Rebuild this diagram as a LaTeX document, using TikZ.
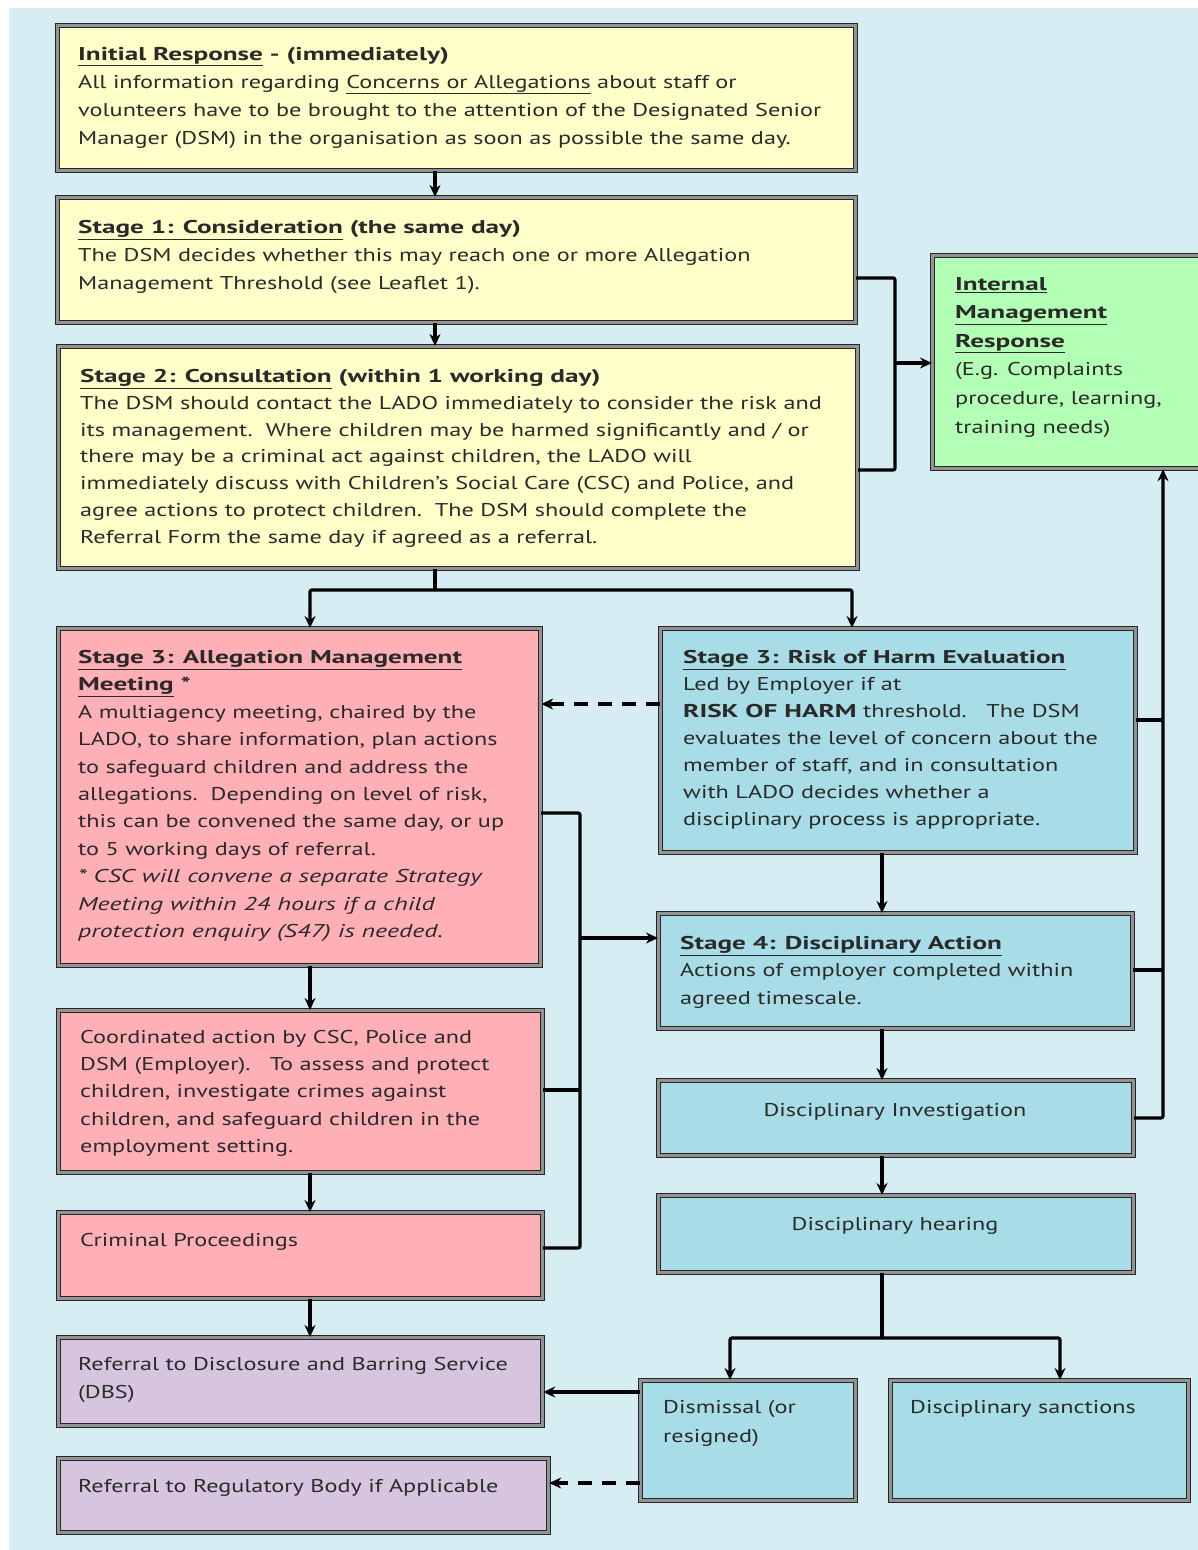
\documentclass[tikz,border=0pt]{standalone}
\usepackage{fontspec}
\setmainfont{PT Sans}[
  UprightFeatures={FakeStretch=1.31},
  BoldFeatures={FakeStretch=1.47},
  ItalicFeatures={FakeStretch=1.40}]
\usetikzlibrary{positioning, arrows.meta}

\definecolor{bgblue}{HTML}{D6EEF3}
\definecolor{yellowbox}{HTML}{FFFFCA}
\definecolor{pinkbox}{HTML}{FFB0B6}
\definecolor{bluebox}{HTML}{A8DCE6}
\definecolor{greenbox}{HTML}{B4FFB6}
\definecolor{purplebox}{HTML}{D7C5DF}
\definecolor{txt}{HTML}{2A2A2A}

\tikzset{
  box/.style={draw=black!85, line width=1.2pt, double=gray!85, double distance=2.8pt, inner sep=0pt, anchor=north west},
  words/.style={anchor=north west, inner sep=0pt, align=left, text=txt, font=\fontsize{18.5}{#1}\selectfont},
  words/.default=27,
  flow/.style={line width=3.2pt, rounded corners=2pt, -{Stealth[length=12pt,width=11pt]}},
  link/.style={line width=3.2pt, rounded corners=2pt},
  maybe/.style={line width=3.2pt, dash pattern=on 14pt off 10pt, -{Stealth[length=12pt,width=11pt]}},
}

\begin{document}
\begin{tikzpicture}[x=1pt, y=-1pt]
\fill[white] (0,0) rectangle (1198,1550);
\fill[bgblue] (9,8) rectangle (1198,1550);
\useasboundingbox (0,0) rectangle (1198,1550);

% top column
\node[box, fill=yellowbox, minimum width=798, minimum height=145] (init) at (57,25) {};
\node[words=28] (initT) at (78,47) {\textbf{\underline{Initial Response} - (immediately)}\\
All information regarding \underline{Concerns or Allegations} about staff or\\
volunteers have to be brought to the attention of the Designated Senior\\
Manager (DSM) in the organisation as soon as possible the same day.};

\node[box, fill=yellowbox, minimum width=798, minimum height=125] (s1) at (57,197) {};
\node[words=28] (s1T) at (78,220) {\textbf{\underline{Stage 1: Consideration} (the same day)}\\
The DSM decides whether this may reach one or more Allegation\\
Management Threshold (see Leaflet 1).};

\node[box, fill=yellowbox, minimum width=799, minimum height=222] (s2) at (58,346) {};
\node[words=26.8] (s2T) at (80,369) {\textbf{\underline{Stage 2: Consultation} (within 1 working day)}\\
The DSM should contact the LADO immediately to consider the risk and\\
its management.\ \ Where children may be harmed significantly and / or\\
there may be a criminal act against children, the LADO will\\
immediately discuss with Children's Social Care (CSC) and Police, and\\
agree actions to protect children.\ \ The DSM should complete the\\
Referral Form the same day if agreed as a referral.};

\node[box, fill=greenbox, minimum width=300, minimum height=213] (imr) at (932,255) {};
\node[words=28.6] (imrT) at (955,277) {\textbf{\underline{Internal}}\\
\textbf{\underline{Management}}\\
\textbf{\underline{Response}}\\
(E.g. Complaints\\
procedure, learning,\\
training needs)};

% left column
\node[box, fill=pinkbox, minimum width=482, minimum height=337] (amm) at (58,628) {};
\node[words=27.4] (ammT) at (78,650) {\textbf{\underline{Stage 3: Allegation Management}}\\
\textbf{\underline{Meeting} *}\\
A multiagency meeting, chaired by the\\
LADO, to share information, plan actions\\
to safeguard children and address the\\
allegations.\ \ Depending on level of risk,\\
this can be convened the same day, or up\\
to 5 working days of referral.\\
\textit{* CSC will convene a separate Strategy}\\
\textit{Meeting within 24 hours if a child}\\
\textit{protection enquiry (S47) is needed.}};

\node[box, fill=pinkbox, minimum width=484, minimum height=162] (coord) at (58,1010) {};
\node[words=27.3] (coordT) at (80,1030) {Coordinated action by CSC, Police and\\
DSM (Employer).\ \ \ To assess and protect\\
children, investigate crimes against\\
children, and safeguard children in the\\
employment setting.};

\node[box, fill=pinkbox, minimum width=484, minimum height=86] (crim) at (58,1212) {};
\node[words] (crimT) at (80,1233) {Criminal Proceedings};

\node[box, fill=purplebox, minimum width=484, minimum height=88] (dbs) at (58,1337) {};
\node[words=28] (dbsT) at (78,1357) {Referral to Disclosure and Barring Service\\
(DBS)};

\node[box, fill=purplebox, minimum width=490, minimum height=74] (reg) at (58,1458) {};
\node[words] (regT) at (78,1479) {Referral to Regulatory Body if Applicable};

% right column
\node[box, fill=bluebox, minimum width=475, minimum height=224] (roh) at (660,628) {};
\node[words=27] (rohT) at (683,650) {\textbf{\underline{Stage 3: Risk of Harm Evaluation}}\\
Led by Employer if at\\
\textbf{RISK OF HARM} threshold.\ \ \ The DSM\\
evaluates the level of concern about the\\
member of staff, and in consultation\\
with LADO decides whether a\\
disciplinary process is appropriate.};

\node[box, fill=bluebox, minimum width=474, minimum height=115] (disc) at (658,913) {};
\node[words=27.5] (discT) at (680,936) {\textbf{\underline{Stage 4: Disciplinary Action}}\\
Actions of employer completed within\\
agreed timescale.};

\node[box, fill=bluebox, minimum width=475, minimum height=75] (inv) at (658,1080) {};
\node[words, anchor=center] (invT) at (895,1112) {Disciplinary Investigation};

\node[box, fill=bluebox, minimum width=475, minimum height=77] (hear) at (658,1195) {};
\node[words, anchor=center] (hearT) at (895,1226) {Disciplinary hearing};

\node[box, fill=bluebox, minimum width=215, minimum height=120] (dism) at (640,1380) {};
\node[words=29] (dismT) at (663,1400) {Dismissal (or\\
resigned)};

\node[box, fill=bluebox, minimum width=298, minimum height=120] (sanc) at (890,1380) {};
\node[words] (sancT) at (910,1400) {Disciplinary sanctions};

% junction points
\coordinate (join) at (895,363);
\coordinate (split) at (435,590);
\coordinate (spineTop) at (580,813);
\coordinate (spineOut) at (580,938);
\coordinate (spineMid) at (580,1090);
\coordinate (spineBot) at (580,1248);
\coordinate (trunkA) at (1163,720);
\coordinate (trunkB) at (1163,970);
\coordinate (trunkC) at (1163,1118);
\coordinate (fork) at (882,1338);

% connectors
\draw[flow] (init.south -| split) -- (s1.north -| split);
\draw[flow] (s1.south -| split) -- (s2.north -| split);
\draw[link] (s1.east |- 0,278) -| (join);
\draw[link] (s2.east |- 0,470) -| (join);
\draw[flow] (join) -- (imr.west |- join);

\draw[link] (s2.south -| split) -- (split);
\draw[flow] (split) -| (amm.north -| 310,0);
\draw[flow] (split) -| (roh.north -| 852,0);
\draw[maybe] (roh.west |- 0,704) -- (amm.east |- 0,704);

\draw[flow] (amm.south -| 310,0) -- (coord.north -| 310,0);
\draw[flow] (coord.south -| 310,0) -- (crim.north -| 310,0);
\draw[flow] (crim.south -| 310,0) -- (dbs.north -| 310,0);
\draw[link] (amm.east |- spineTop) -- (spineTop) -- (spineBot) -- (crim.east |- spineBot);
\draw[link] (coord.east |- spineMid) -- (spineMid);
\draw[flow] (spineOut) -- (disc.west |- spineOut);

\draw[flow] (roh.south -| fork) -- (disc.north -| fork);
\draw[flow] (disc.south -| fork) -- (inv.north -| fork);
\draw[flow] (inv.south -| fork) -- (hear.north -| fork);
\draw[link] (roh.east |- trunkA) -- (trunkA);
\draw[link] (disc.east |- trunkB) -- (trunkB);
\draw[flow] (inv.east |- trunkC) -- (trunkC) -- (imr.south -| trunkC);

\draw[link] (hear.south -| fork) -- (fork);
\draw[flow] (fork) -| (dism.north -| 730,0);
\draw[flow] (fork) -| (sanc.north -| 1060,0);
\draw[flow] (dism.west |- 0,1392) -- (dbs.east |- 0,1392);
\draw[maybe] (dism.west |- 0,1483) -- (reg.east |- 0,1483);
\end{tikzpicture}
\end{document}
